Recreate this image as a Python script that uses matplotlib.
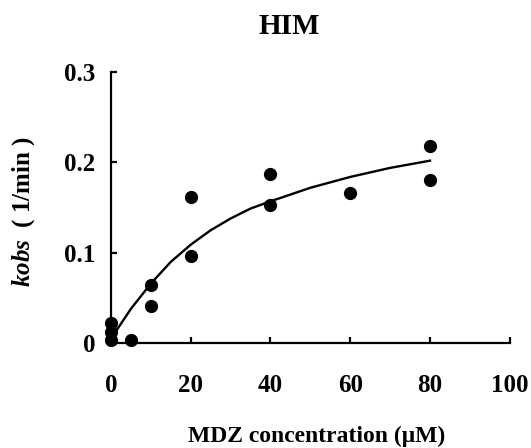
"""HIM: kobs vs MDZ concentration"""
import matplotlib
matplotlib.use('Agg')
import matplotlib.pyplot as plt

plt.rcParams['font.family'] = ['Liberation Serif', 'DejaVu Serif']
plt.rcParams['font.weight'] = 'bold'
plt.rcParams['mathtext.fontset'] = 'custom'
plt.rcParams['mathtext.it'] = 'Liberation Serif:italic:bold'
plt.rcParams['mathtext.rm'] = 'Liberation Serif:bold'

# measured points
conc = [0, 0, 0, 5, 10, 10, 20, 20, 40, 40, 60, 80, 80]
kobs = [0.022, 0.012, 0.003, 0.004, 0.064, 0.041, 0.162, 0.097,
        0.187, 0.153, 0.166, 0.218, 0.181]

# fitted curve
fit_x = [0, 5, 10, 15, 20, 25, 30, 35, 40, 50, 60, 70, 80]
fit_y = [0.005, 0.038, 0.066, 0.090, 0.109, 0.125, 0.138, 0.149,
         0.157, 0.172, 0.184, 0.194, 0.202]

xticks = [0, 20, 40, 60, 80, 100]
yticks = [0, 0.1, 0.2, 0.3]
yticklabels = ['0', '0.1', '0.2', '0.3']

fig = plt.figure(figsize=(5.31, 4.48), dpi=100)
ax = fig.add_axes([0.209, 0.234, 0.751, 0.605])

ax.plot(fit_x, fit_y, color='black', linewidth=1.7, clip_on=False)
ax.plot(conc, kobs, 'o', color='black', markersize=8.5, clip_on=False, zorder=5)

ax.set_xlim(0, 100)
ax.set_ylim(0, 0.3)
ax.set_xticks(xticks)
ax.set_yticks(yticks)
ax.set_yticklabels(yticklabels)

for s in ['top', 'right']:
    ax.spines[s].set_visible(False)
for s in ['left', 'bottom']:
    ax.spines[s].set_linewidth(1.6)

ax.tick_params(axis='both', direction='in', length=4, width=1.6,
               labelsize=18)
ax.tick_params(axis='x', pad=22)
ax.tick_params(axis='y', pad=11)

fig.text(0.545, 0.94, 'HIM', fontsize=21, fontweight='bold',
         ha='center', va='center')
ax.set_xlabel('MDZ concentration (μM)', fontsize=17, fontweight='bold')
ax.xaxis.set_label_coords(0.516, -0.305)
ax.set_ylabel(r'$kobs$  ( 1/min )', fontsize=18, fontweight='bold')
ax.yaxis.set_label_coords(-0.185, 0.487)

plt.savefig('out.png', dpi=100)
plt.close()
